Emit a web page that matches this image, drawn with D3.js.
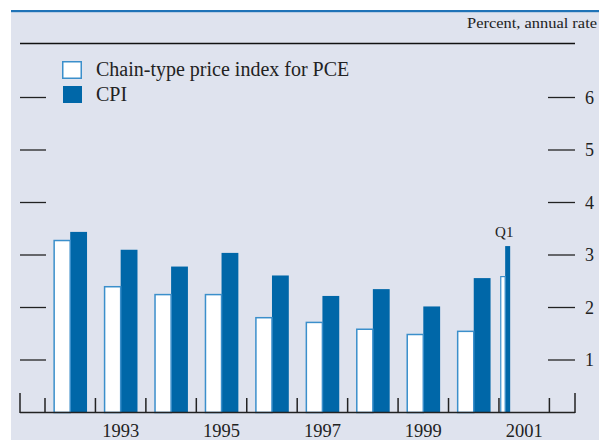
<!DOCTYPE html>
<html><head><meta charset="utf-8">
<script src="https://cdn.jsdelivr.net/npm/d3@7"></script>
<style>html,body{margin:0;padding:0;background:#fff;}svg{display:block;}</style>
</head><body>
<svg id="c" width="599" height="440"></svg>
<script>
const years = [1992,1993,1994,1995,1996,1997,1998,1999,2000,2001];
const annualYears = [1992,1993,1994,1995,1996,1997,1998,1999,2000];
const pce = [3.29,2.41,2.26,2.26,1.82,1.73,1.60,1.50,1.56];
const cpi = [3.44,3.10,2.78,3.04,2.61,2.22,2.35,2.02,2.56];
const q1Label = "Q1";
const q1Pce = 2.60;
const q1Cpi = 3.17;
const yTicks = [1,2,3,4,5,6];
const xLabels = [1993,1995,1997,1999,2001];
const seriesNames = ["Chain-type price index for PCE","CPI"];
const unitsLabel = "Percent, annual rate";

const svg = d3.select("#c");
const font = "'Liberation Serif','Times New Roman',serif";
const bg = "#dfe3ee", dark = "#0067a8", light = "#3b8fcb";

svg.append("rect").attr("x",11).attr("y",10).attr("width",588).attr("height",430).attr("fill",bg);
svg.append("rect").attr("x",11).attr("y",10).attr("width",588).attr("height",2.2).attr("fill","#1f73b7");

svg.append("text").attr("x",597).attr("y",27.5).attr("text-anchor","end")
  .attr("font-family",font).attr("font-size",15).attr("fill","#222")
  .attr("textLength",130).attr("lengthAdjust","spacingAndGlyphs").text(unitsLabel);
svg.append("line").attr("x1",20).attr("x2",575).attr("y1",43.5).attr("y2",43.5).attr("stroke","#111").attr("stroke-width",1.5);

const x = d3.scaleBand().domain(years).range([45,549.4]).paddingInner(0).paddingOuter(0);
const inner = d3.scaleBand().domain([0,1]).range([8.4, x.step()-8.4]);
const y = d3.scaleLinear().domain([0,6]).range([412.5, 97.5]);

// y ticks left and right
const g = svg.append("g");
yTicks.forEach(t=>{
  g.append("line").attr("x1",20).attr("x2",46).attr("y1",y(t)).attr("y2",y(t)).attr("stroke","#222").attr("stroke-width",1.3);
  g.append("line").attr("x1",548).attr("x2",575).attr("y1",y(t)).attr("y2",y(t)).attr("stroke","#222").attr("stroke-width",1.3);
  g.append("text").attr("x",585).attr("y",y(t)+6).attr("font-family",font).attr("font-size",18).attr("fill","#222").text(t);
});

// bars
const bars = svg.append("g");
annualYears.forEach((yr,i)=>{
  const x0 = x(yr);
  bars.append("rect").attr("x",x0+inner(1)).attr("y",y(cpi[i])).attr("width",inner.bandwidth()).attr("height",y(0)-y(cpi[i])).attr("fill",dark);
  bars.append("rect").attr("x",x0+inner(0)+0.75).attr("y",y(pce[i])+0.75).attr("width",inner.bandwidth()-0.75).attr("height",y(0)-y(pce[i])-0.75)
    .attr("fill","#fff").attr("stroke",light).attr("stroke-width",1.5);
});
// Q1 2001
const qx = d3.scaleBand().domain(["Q1","Q2","Q3","Q4"]).range([x(2001), x(2001)+x.step()]);
const qi = d3.scaleBand().domain([0,1]).range([1.2, qx.bandwidth()-1.4]);
const q0 = qx("Q1");
bars.append("rect").attr("x",q0+qi(1)).attr("y",y(q1Cpi)).attr("width",qi.bandwidth()).attr("height",y(0)-y(q1Cpi)).attr("fill",dark);
bars.append("rect").attr("x",q0+qi(0)+0.6).attr("y",y(q1Pce)+0.6).attr("width",qi.bandwidth()-0.6).attr("height",y(0)-y(q1Pce)-0.6)
  .attr("fill","#fff").attr("stroke",light).attr("stroke-width",1.2);
svg.append("text").attr("x",q0+qx.bandwidth()/2-1).attr("y",237).attr("text-anchor","middle")
  .attr("font-family",font).attr("font-size",15).attr("fill","#222").text(q1Label);

// x axis
const ax = svg.append("g");
ax.append("line").attr("x1",20).attr("x2",575).attr("y1",412.5).attr("y2",412.5).attr("stroke","#222").attr("stroke-width",1.5);
years.concat([2002]).forEach(yr=>{
  const xx = yr===2002 ? x(2001)+x.step() : x(yr);
  ax.append("line").attr("x1",xx).attr("x2",xx).attr("y1",398).attr("y2",412.5).attr("stroke","#222").attr("stroke-width",1.5);
});
[20,575].forEach(xx=>{
  ax.append("line").attr("x1",xx).attr("x2",xx).attr("y1",393).attr("y2",413).attr("stroke","#222").attr("stroke-width",1.5);
});
xLabels.forEach(yr=>{
  ax.append("text").attr("x",x(yr)+x.step()/2).attr("y",437).attr("text-anchor","middle")
    .attr("font-family",font).attr("font-size",18.5).attr("fill","#222").text(yr);
});

// legend
const lg = svg.append("g");
lg.append("rect").attr("x",62.75).attr("y",61.75).attr("width",18.5).attr("height",16.5).attr("fill","#fff").attr("stroke",light).attr("stroke-width",1.5);
lg.append("rect").attr("x",63).attr("y",86).attr("width",19).attr("height",17).attr("fill",dark);
lg.append("text").attr("x",96).attr("y",75.5).attr("font-family",font).attr("font-size",20).attr("fill","#222").text(seriesNames[0]);
lg.append("text").attr("x",96).attr("y",101).attr("font-family",font).attr("font-size",20).attr("fill","#222").text(seriesNames[1]);
</script>
</body></html>
